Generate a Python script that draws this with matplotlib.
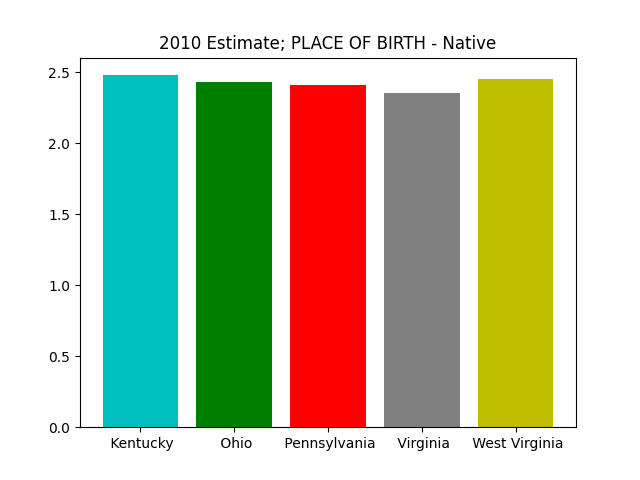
import matplotlib
matplotlib.use("Agg")
import matplotlib.pyplot as plt

states = [" Kentucky", " Ohio", " Pennsylvania", " Virginia", " West Virginia"]
values = [2.48, 2.431, 2.41, 2.353, 2.452]
colors = ["c", "g", "r", "grey", "y"]

fig, ax = plt.subplots(figsize=(6.4, 4.8), dpi=100)
ax.bar(range(len(states)), values, color=colors)
ax.set_xticks(range(len(states)))
ax.set_xticklabels(states)
ax.set_title("2010 Estimate; PLACE OF BIRTH - Native")
fig.savefig("out.png")
